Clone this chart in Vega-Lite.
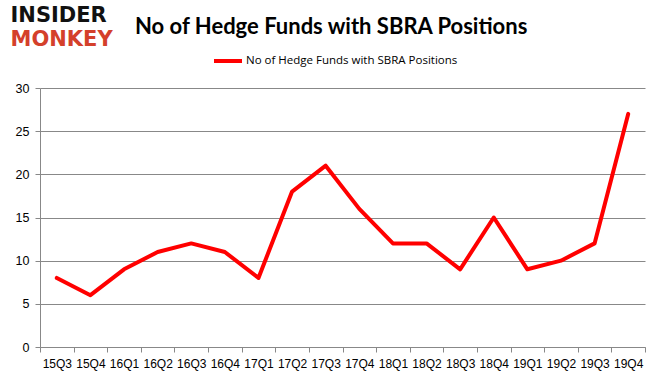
{
  "$schema": "https://vega.github.io/schema/vega-lite/v6.json",
  "autosize": {"type": "none"},
  "width": 605,
  "height": 259,
  "padding": {"left": 40, "top": 88, "right": 20, "bottom": 44},
  "background": "white",
  "config": {"view": {"stroke": null}},
  "title": {
    "text": "No of Hedge Funds with SBRA Positions",
    "anchor": "start",
    "frame": "group",
    "dx": 95,
    "font": "Lato",
    "fontWeight": "bold",
    "fontSize": 22,
    "color": "#000000",
    "baseline": "alphabetic",
    "offset": -52
  },
  "data": {
    "values": [
      {"quarter": "15Q3", "funds": 8, "series": "No of Hedge Funds with SBRA Positions"},
      {"quarter": "15Q4", "funds": 6, "series": "No of Hedge Funds with SBRA Positions"},
      {"quarter": "16Q1", "funds": 9, "series": "No of Hedge Funds with SBRA Positions"},
      {"quarter": "16Q2", "funds": 11, "series": "No of Hedge Funds with SBRA Positions"},
      {"quarter": "16Q3", "funds": 12, "series": "No of Hedge Funds with SBRA Positions"},
      {"quarter": "16Q4", "funds": 11, "series": "No of Hedge Funds with SBRA Positions"},
      {"quarter": "17Q1", "funds": 8, "series": "No of Hedge Funds with SBRA Positions"},
      {"quarter": "17Q2", "funds": 18, "series": "No of Hedge Funds with SBRA Positions"},
      {"quarter": "17Q3", "funds": 21, "series": "No of Hedge Funds with SBRA Positions"},
      {"quarter": "17Q4", "funds": 16, "series": "No of Hedge Funds with SBRA Positions"},
      {"quarter": "18Q1", "funds": 12, "series": "No of Hedge Funds with SBRA Positions"},
      {"quarter": "18Q2", "funds": 12, "series": "No of Hedge Funds with SBRA Positions"},
      {"quarter": "18Q3", "funds": 9, "series": "No of Hedge Funds with SBRA Positions"},
      {"quarter": "18Q4", "funds": 15, "series": "No of Hedge Funds with SBRA Positions"},
      {"quarter": "19Q1", "funds": 9, "series": "No of Hedge Funds with SBRA Positions"},
      {"quarter": "19Q2", "funds": 10, "series": "No of Hedge Funds with SBRA Positions"},
      {"quarter": "19Q3", "funds": 12, "series": "No of Hedge Funds with SBRA Positions"},
      {"quarter": "19Q4", "funds": 27, "series": "No of Hedge Funds with SBRA Positions"}
    ]
  },
  "mark": {"type": "line", "strokeWidth": 4, "strokeJoin": "round", "strokeCap": "round"},
  "encoding": {
    "x": {
      "field": "quarter",
      "type": "ordinal",
      "sort": null,
      "bandPosition": 0.5,
      "scale": {"type": "band", "paddingInner": 0, "paddingOuter": 0},
      "axis": {
        "title": "MONKEY",
        "titleFont": "DejaVu Sans",
        "titleFontWeight": "bold",
        "titleFontSize": 21,
        "titleColor": "#d4402b",
        "titleAlign": "left",
        "titleBaseline": "alphabetic",
        "titleAnchor": null,
        "titleX": -30,
        "titleY": -302,
        "labelAngle": 0,
        "labelFont": "Liberation Sans",
        "labelFontSize": 12,
        "labelColor": "#000000",
        "labelPadding": 6,
        "tickBand": "extent",
        "tickColor": "#888888",
        "tickSize": 5,
        "domainColor": "#888888",
        "grid": false
      }
    },
    "y": {
      "field": "funds",
      "type": "quantitative",
      "scale": {"domain": [0, 30]},
      "axis": {
        "title": "INSIDER",
        "titleFont": "DejaVu Sans",
        "titleFontWeight": "bold",
        "titleFontSize": 21,
        "titleColor": "#111111",
        "titleAngle": 0,
        "titleAlign": "left",
        "titleBaseline": "alphabetic",
        "titleAnchor": null,
        "titleX": -30,
        "titleY": -67,
        "values": [0, 5, 10, 15, 20, 25, 30],
        "labelFont": "Liberation Sans",
        "labelFontSize": 12.5,
        "labelColor": "#000000",
        "labelPadding": 6,
        "tickColor": "#888888",
        "tickSize": 5,
        "domainColor": "#888888",
        "gridColor": "#888888",
        "gridWidth": 1
      }
    },
    "color": {
      "field": "series",
      "type": "nominal",
      "scale": {"range": ["#ff0000"]},
      "legend": {
        "title": null,
        "orient": "none",
        "legendX": 172,
        "legendY": -43,
        "symbolType": "stroke",
        "symbolStrokeWidth": 4,
        "symbolSize": 784,
        "labelFont": "Open Sans",
        "labelFontSize": 11.5,
        "labelLimit": 400,
        "labelColor": "#000000",
        "labelOffset": 2
      }
    }
  }
}
